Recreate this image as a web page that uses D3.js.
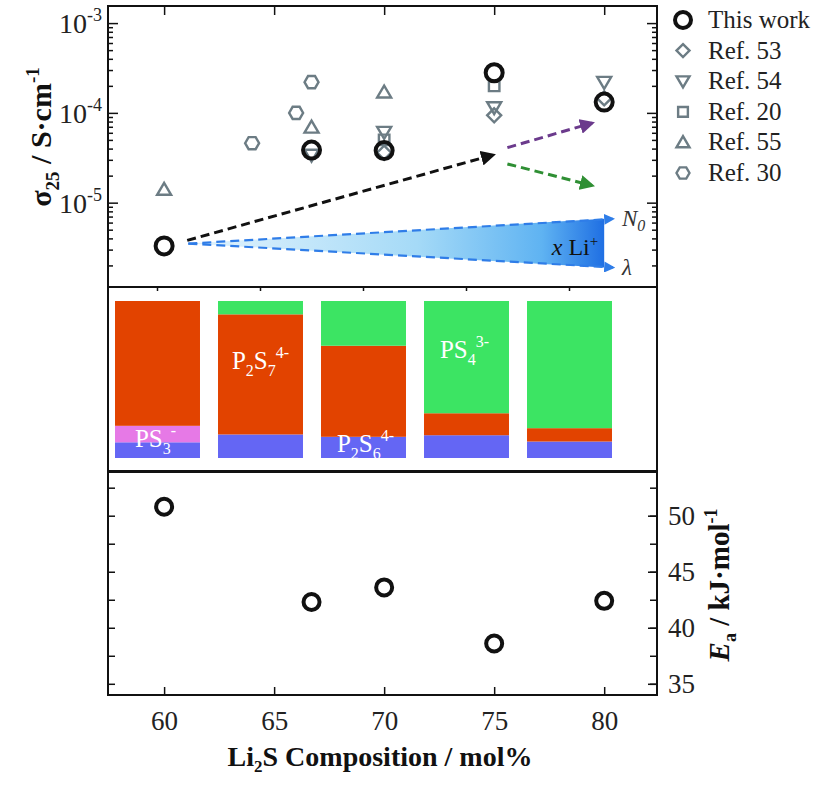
<!DOCTYPE html>
<html>
<head>
<meta charset="utf-8">
<script src="https://cdn.jsdelivr.net/npm/d3@7"></script>
<style>
  body { margin: 0; background: #fff; }
</style>
</head>
<body>
<div class="chart"></div>
<script>
// ---- data ----
var comp = [60, 66.7, 70, 75, 80];
var sigmaThis = [3.3e-6, 3.85e-5, 3.8e-5, 2.8e-4, 1.32e-4];
var ref53 = [[70, 3.6e-5], [75, 9.4e-5], [80, 1.45e-4]];
var ref54 = [[66.7, 3.4e-5], [70, 6.1e-5], [75, 1.15e-4], [80, 2.2e-4]];
var ref20 = [[70, 5.0e-5], [75, 2.0e-4]];
var ref55 = [[60, 1.4e-5], [66.7, 6.9e-5], [70, 1.7e-4]];
var ref30 = [[64, 4.6e-5], [66, 1.0e-4], [66.7, 2.2e-4]];
var ea = [50.8, 42.3, 43.6, 38.6, 42.4];

// species fractions per composition (bottom to top)
var p2s6 = [0.10, 0.15, 0.135, 0.145, 0.105];
var ps3 = [0.105, 0, 0, 0, 0];
var p2s7 = [0.795, 0.765, 0.58, 0.14, 0.085];
var ps4 = [0, 0.085, 0.285, 0.715, 0.81];

var xTicks = [60, 65, 70, 75, 80];
var eaTicks = [35, 40, 45, 50];
var decades = [1e-5, 1e-4, 1e-3];

// annotation arrows in data coords [x1, y1, x2, y2]
var arrowBlack = [61.05, 3.8e-6, 74.95, 3.4e-5];
var arrowPurple = [75.6, 4.1e-5, 79.45, 7.7e-5];
var arrowGreen = [75.6, 2.7e-5, 79.45, 1.55e-5];
var wedgeStart = [61.1, 3.5e-6];
var wedgeUpper = [80.4, 6.6e-6];
var wedgeLower = [80.4, 1.9e-6];
var wedgeFillX = 80;

var FONT = "Liberation Serif";
var W = 815, H = 790;
var L = 108, R = 657;
var svg = d3.select(".chart").append("svg")
    .attr("width", W)
    .attr("height", H);

var defs = svg.append("defs");
function arrowMarker(id, color) {
    defs.append("marker")
        .attr("id", id)
        .attr("viewBox", "0 0 10 10")
        .attr("refX", 8).attr("refY", 5)
        .attr("markerWidth", 5).attr("markerHeight", 5)
        .attr("orient", "auto")
        .append("path")
        .attr("d", "M0,0L10,5L0,10z")
        .attr("fill", color);
}
arrowMarker("ah-black", "#111");
arrowMarker("ah-purple", "#6b3a8c");
arrowMarker("ah-green", "#2f8f34");
arrowMarker("ah-blue", "#2f7de8");

var grad = defs.append("linearGradient").attr("id", "wedge")
    .attr("x1", "0%").attr("x2", "100%").attr("y1", "0%").attr("y2", "0%");
grad.append("stop").attr("offset", "0%").attr("stop-color", "#e4f4fd");
grad.append("stop").attr("offset", "55%").attr("stop-color", "#a5daf7");
grad.append("stop").attr("offset", "85%").attr("stop-color", "#5fb3f2");
grad.append("stop").attr("offset", "100%").attr("stop-color", "#1f6fe3");

var x = d3.scaleLinear().domain([57.45, 82.4]).range([L, R]);

// ================= top panel: conductivity =================
var topT = 6, topB = 287;
var y = d3.scaleLog().domain([1.15e-6, 1.55e-3]).range([topB, topT]);

var minors = [];
[1e-6, 1e-5, 1e-4, 1e-3].forEach(d => {
    for (var k = 2; k <= 9; k++) {
        var v = d * k;
        if (v > y.domain()[0] && v < y.domain()[1]) minors.push(v);
    }
});

function yAxes(g, axis, at) {
    g.append("g").attr("transform", "translate(" + at + ",0)")
        .call(axis(y).tickValues(minors).tickSizeInner(-5).tickSizeOuter(0).tickFormat(""));
    g.append("g").attr("transform", "translate(" + at + ",0)")
        .call(axis(y).tickValues(decades).tickSizeInner(-10).tickSizeOuter(0).tickFormat(""));
}
var topG = svg.append("g");
yAxes(topG, d3.axisLeft, L);
yAxes(topG, d3.axisRight, R);
topG.append("g").attr("transform", "translate(0," + topT + ")")
    .call(d3.axisTop(x).tickValues(xTicks).tickSizeInner(-9).tickSizeOuter(0).tickFormat(""));
topG.selectAll(".domain").remove();

// decade labels
topG.selectAll(".declab").data(decades).join("text")
    .attr("class", "declab")
    .attr("x", 102)
    .attr("y", d => y(d) + 10)
    .attr("text-anchor", "end")
    .attr("font-family", FONT)
    .attr("font-size", 28)
    .attr("fill", "#222")
    .each(function(d) {
        var t = d3.select(this);
        t.append("tspan").text("10");
        t.append("tspan").attr("dy", -12).attr("font-size", 18).text(String(Math.round(Math.log10(d))));
    });

// wedge (x Li+)
var wedgePts = [
    [x(wedgeStart[0]), y(wedgeStart[1])],
    [x(wedgeFillX), y(wedgeUpper[1])],
    [x(wedgeFillX), y(wedgeLower[1])]
];
topG.append("path")
    .attr("d", "M" + wedgePts.join("L") + "Z")
    .attr("fill", "url(#wedge)");

function dashedArrow(a, color, marker, w) {
    topG.append("line")
        .attr("x1", x(a[0])).attr("y1", y(a[1]))
        .attr("x2", x(a[2])).attr("y2", y(a[3]))
        .attr("stroke", color)
        .attr("stroke-width", w || 3)
        .attr("stroke-dasharray", "9,5")
        .attr("marker-end", "url(#" + marker + ")");
}
dashedArrow([wedgeStart[0], wedgeStart[1], wedgeUpper[0], wedgeUpper[1]], "#2f7de8", "ah-blue", 2.2);
dashedArrow([wedgeStart[0], wedgeStart[1], wedgeLower[0], wedgeLower[1]], "#2f7de8", "ah-blue", 2.2);
dashedArrow(arrowBlack, "#111", "ah-black");
dashedArrow(arrowPurple, "#6b3a8c", "ah-purple");
dashedArrow(arrowGreen, "#2f8f34", "ah-green");

var nLab = topG.append("text")
    .attr("x", x(wedgeUpper[0]) + 9).attr("y", y(wedgeUpper[1]) + 7)
    .attr("font-family", FONT)
    .attr("font-size", 23).attr("font-style", "italic").attr("fill", "#333");
nLab.append("tspan").text("N");
nLab.append("tspan").attr("dy", 5).attr("font-size", 16).text("0");
topG.append("text")
    .attr("x", x(wedgeLower[0]) + 9).attr("y", y(wedgeLower[1]) + 8)
    .attr("font-family", FONT)
    .attr("font-size", 23).attr("font-style", "italic").attr("fill", "#333")
    .text("λ");
var liLab = topG.append("text")
    .attr("x", x(wedgeFillX) - 6).attr("y", y(3.3e-6) + 9)
    .attr("text-anchor", "end")
    .attr("font-family", FONT)
    .attr("font-size", 24).attr("fill", "#111");
liLab.append("tspan").attr("font-style", "italic").text("x");
liLab.append("tspan").text(" Li");
liLab.append("tspan").attr("dy", -9).attr("font-size", 15).text("+");

// marker shapes
var refColor = "#6c7c84";
function markerPath(type, s) {
    if (type === "diamond") return "M0," + (-s) + "L" + s + ",0L0," + s + "L" + (-s) + ",0Z";
    if (type === "down") return "M" + (-s) + "," + (-s * 0.75) + "L" + s + "," + (-s * 0.75) + "L0," + (s * 0.95) + "Z";
    if (type === "up") return "M" + (-s) + "," + (s * 0.75) + "L" + s + "," + (s * 0.75) + "L0," + (-s * 0.95) + "Z";
    if (type === "square") { var q = s * 0.75; return "M" + (-q) + "," + (-q) + "H" + q + "V" + q + "H" + (-q) + "Z"; }
    if (type === "hex") {
        var p = d3.range(6).map(i => [s * Math.cos(Math.PI / 3 * i), s * Math.sin(Math.PI / 3 * i)]);
        return "M" + p.join("L") + "Z";
    }
}
var refSets = [
    {name: "Ref. 53", type: "diamond", data: ref53},
    {name: "Ref. 54", type: "down", data: ref54},
    {name: "Ref. 20", type: "square", data: ref20},
    {name: "Ref. 55", type: "up", data: ref55},
    {name: "Ref. 30", type: "hex", data: ref30}
];
refSets.forEach(r => {
    topG.append("g").selectAll("path").data(r.data).join("path")
        .attr("d", markerPath(r.type, 7))
        .attr("transform", d => "translate(" + x(d[0]) + "," + y(d[1]) + ")")
        .attr("fill", "none")
        .attr("stroke", refColor)
        .attr("stroke-width", 2.4);
});
topG.append("g").selectAll("circle").data(comp).join("circle")
    .attr("cx", d => x(d))
    .attr("cy", (d, i) => y(sigmaThis[i]))
    .attr("r", 8.5)
    .attr("fill", "none")
    .attr("stroke", "#111")
    .attr("stroke-width", 4);

// y label
var yl = svg.append("text")
    .attr("transform", "translate(51,137) rotate(-90)")
    .attr("text-anchor", "middle")
    .attr("font-family", FONT)
    .attr("font-size", 30).attr("font-weight", "bold").attr("fill", "#111");
yl.append("tspan").text("σ");
yl.append("tspan").attr("dy", 8).attr("font-size", 19).text("25");
yl.append("tspan").attr("dy", -8).text(" / S·cm");
yl.append("tspan").attr("dy", -12).attr("font-size", 19).text("-1");

// legend
var leg = svg.append("g").attr("transform", "translate(683,20)");
var legItems = [{name: "This work", type: "circle"}].concat(refSets);
legItems.forEach((d, i) => {
    var g = leg.append("g").attr("transform", "translate(0," + (i * 30.6) + ")");
    if (d.type === "circle") {
        g.append("circle").attr("r", 8).attr("fill", "none").attr("stroke", "#111").attr("stroke-width", 4);
    } else {
        g.append("path").attr("d", markerPath(d.type, 6.5)).attr("fill", "none")
            .attr("stroke", refColor).attr("stroke-width", 2.4);
    }
    g.append("text").attr("x", 25).attr("y", 8)
        .attr("font-family", FONT).attr("font-size", 25).attr("fill", "#222").text(d.name);
});

// ================= middle panel: species =================
var midT = 287, midB = 471;
var band = d3.scaleBand().domain(comp).range([106, 621]).paddingInner(0.175).paddingOuter(0.0875);
var yf = d3.scaleLinear().domain([0, 1]).range([458, 301]);
var species = [
    {key: "p2s6", vals: p2s6, color: "#6466f4"},
    {key: "ps3", vals: ps3, color: "#e679e6"},
    {key: "p2s7", vals: p2s7, color: "#e24300"},
    {key: "ps4", vals: ps4, color: "#3ce463"}
];
var rows = comp.map((c, i) => {
    var o = {comp: c};
    species.forEach(s => o[s.key] = s.vals[i]);
    return o;
});
var stacked = d3.stack().keys(species.map(s => s.key))(rows);
var midG = svg.append("g");
midG.selectAll("g").data(stacked).join("g")
    .attr("fill", (d, i) => species[i].color)
    .selectAll("rect").data(d => d).join("rect")
    .attr("x", d => band(d.data.comp))
    .attr("width", band.bandwidth())
    .attr("y", d => yf(d[1]))
    .attr("height", d => yf(d[0]) - yf(d[1]));
// small ticks on the top edge at bar centres
midG.append("g").attr("transform", "translate(0," + midT + ")")
    .call(d3.axisBottom(band).tickSizeInner(4).tickSizeOuter(0).tickFormat(""))
    .call(g => g.select(".domain").remove());

function ionLabel(cx, cy, parts) {
    var t = midG.append("text").attr("x", cx).attr("y", cy)
        .attr("text-anchor", "middle")
        .attr("font-family", FONT)
        .attr("font-size", 25).attr("fill", "#fff");
    var shift = 0;
    parts.forEach(p => {
        var dy = (p[1] === "sub" ? 7 : p[1] === "sup" ? -11 : 0) - shift;
        shift += dy;
        t.append("tspan").attr("dy", dy).attr("font-size", p[1] ? 16 : 25).text(p[0]);
    });
}
ionLabel(band(60) + band.bandwidth() / 2 - 2, 447, [["PS"], ["3", "sub"], ["-", "sup"]]);
ionLabel(band(66.7) + band.bandwidth() / 2, 369, [["P"], ["2", "sub"], ["S"], ["7", "sub"], ["4-", "sup"]]);
ionLabel(band(70) + band.bandwidth() / 2 + 2, 452, [["P"], ["2", "sub"], ["S"], ["6", "sub"], ["4-", "sup"]]);
ionLabel(band(75) + band.bandwidth() / 2 - 2, 358, [["PS"], ["4", "sub"], ["3-", "sup"]]);

// ================= bottom panel: activation energy =================
var botT = 472, botB = 695;
var yE = d3.scaleLinear().domain([34.0, 53.9]).range([botB, botT]);
var eaMinor = d3.range(35, 54, 2.5);
var botG = svg.append("g");
botG.append("g").attr("transform", "translate(" + L + ",0)")
    .call(d3.axisLeft(yE).tickValues(eaMinor).tickSizeInner(-7).tickSizeOuter(0).tickFormat(""));
botG.append("g").attr("transform", "translate(" + R + ",0)")
    .call(d3.axisLeft(yE).tickValues(eaMinor).tickSizeInner(7).tickSizeOuter(0).tickFormat(""));
var ra = botG.append("g").attr("transform", "translate(" + R + ",0)")
    .call(d3.axisRight(yE).tickValues(eaTicks).tickSizeInner(-9).tickSizeOuter(0).tickPadding(11));
var xa = botG.append("g").attr("transform", "translate(0," + botB + ")")
    .call(d3.axisBottom(x).tickValues(xTicks).tickSizeInner(-8).tickSizeOuter(0).tickPadding(16));
[ra, xa].forEach(a => {
    a.attr("font-family", null).attr("font-size", null);
    a.selectAll("text").attr("font-family", FONT).attr("font-size", 27).attr("fill", "#222");
});
botG.selectAll(".domain").remove();
svg.selectAll(".tick line").attr("stroke", "#111").attr("stroke-width", 1.5);

botG.append("g").selectAll("circle").data(comp).join("circle")
    .attr("cx", d => x(d))
    .attr("cy", (d, i) => yE(ea[i]))
    .attr("r", 8)
    .attr("fill", "none")
    .attr("stroke", "#111")
    .attr("stroke-width", 4);

// right label
var el = svg.append("text")
    .attr("transform", "translate(729,585) rotate(-90)")
    .attr("text-anchor", "middle")
    .attr("font-family", FONT)
    .attr("font-size", 29).attr("font-weight", "bold").attr("fill", "#111");
el.append("tspan").attr("font-style", "italic").text("E");
el.append("tspan").attr("dy", 7).attr("font-size", 18).text("a");
el.append("tspan").attr("dy", -7).text(" / kJ·mol");
el.append("tspan").attr("dy", -12).attr("font-size", 18).text("-1");

// x label
var xl = svg.append("text")
    .attr("x", 380).attr("y", 766)
    .attr("text-anchor", "middle")
    .attr("font-family", FONT)
    .attr("font-size", 28).attr("font-weight", "bold").attr("fill", "#111");
xl.append("tspan").text("Li");
xl.append("tspan").attr("dy", 6).attr("font-size", 17).text("2");
xl.append("tspan").attr("dy", -6).text("S Composition / mol%");

// frames
[[topT, topB], [midT, midB], [botT, botB]].forEach(p => {
    svg.append("rect")
        .attr("x", L).attr("y", p[0])
        .attr("width", R - L).attr("height", p[1] - p[0])
        .attr("fill", "none")
        .attr("stroke", "#111")
        .attr("stroke-width", 2);
});
</script>
</body>
</html>
